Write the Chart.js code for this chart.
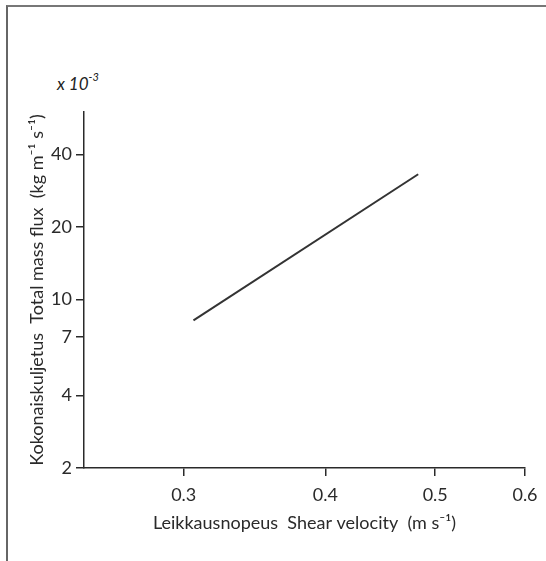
<!DOCTYPE html>
<html>
<head>
<meta charset="utf-8">
<script src="https://cdn.jsdelivr.net/npm/chart.js@4"></script>
<style>
    html, body { margin: 0; padding: 0; background: #fff; }
    #wrap { position: relative; width: 546px; height: 561px; overflow: hidden; }
    #frame {
        position: absolute; left: 6px; top: 5px; right: -10px; bottom: -10px;
        border-left: 2px solid #666; border-top: 2px solid #777;
    }
    #exp {
        position: absolute; left: 57px; top: 72px;
        font: italic 17px Lato, sans-serif; color: #222;
    }
    #exp sup { font-size: 11px; position: relative; top: -2px; }
    canvas { position: absolute; left: 0; top: 0; }
</style>
</head>
<body>
<div id="wrap">
    <div id="frame"></div>
    <div id="exp">x 10<sup>-3</sup></div>
    <canvas id="chart" width="546" height="561"></canvas>
</div>
<script>
// shear velocity (m/s) vs total mass flux (x 10^-3 kg m-1 s-1), log-log
const shearVelocity = [0.306, 0.483]
const massFlux = [8.2, 33.1]

const xTicks = [0.3, 0.4, 0.5, 0.6]
const yTicks = [2, 4, 7, 10, 20, 40]

const xTitle = 'Leikkausnopeus  Shear velocity  (m s\u207B\u00B9)'
const yTitle = 'Kokonaiskuljetus  Total mass flux  (kg m\u207B\u00B9 s\u207B\u00B9)'

const ink = '#2a2a2a'
const font = { family: 'Lato, sans-serif', size: 18 }

Chart.defaults.animation = false
Chart.defaults.color = ink
Chart.defaults.font.family = font.family

const axisStyle = {
    grid: {
        display: true,
        drawOnChartArea: false,
        drawTicks: true,
        tickLength: 8,
        color: ink,
        lineWidth: 1.5,
    },
    border: { display: true, color: ink, width: 1.5 },
}

new Chart(document.getElementById('chart'), {
    type: 'scatter',
    data: {
        datasets: [{
            data: shearVelocity.map((x, i) => ({ x: x, y: massFlux[i] })),
            showLine: true,
            borderColor: '#333',
            borderWidth: 2,
            pointRadius: 0,
        }],
    },
    options: {
        responsive: false,
        layout: { padding: { top: 112, right: 21, bottom: 0, left: 0 } },
        plugins: { legend: { display: false }, tooltip: { enabled: false } },
        scales: {
            x: {
                type: 'logarithmic',
                min: 0.245,
                max: 0.6,
                ...axisStyle,
                afterBuildTicks: (scale) => {
                    scale.ticks = xTicks.map((v) => ({ value: v }))
                },
                afterFit: (scale) => { scale.height = 93 },
                ticks: {
                    font: font,
                    padding: 8,
                    maxRotation: 0,
                    autoSkip: false,
                    callback: (v) => String(v),
                },
                title: {
                    display: true,
                    text: xTitle,
                    font: font,
                    padding: { top: 0, bottom: 27 },
                },
            },
            y: {
                type: 'logarithmic',
                min: 2,
                max: 60,
                ...axisStyle,
                afterBuildTicks: (scale) => {
                    scale.ticks = yTicks.map((v) => ({ value: v }))
                },
                afterFit: (scale) => { scale.width = 84 },
                ticks: {
                    font: font,
                    padding: 4,
                    autoSkip: false,
                    callback: (v) => String(v),
                },
                title: {
                    display: true,
                    text: yTitle,
                    font: font,
                    padding: { top: 26, bottom: 0 },
                },
            },
        },
    },
})
</script>
</body>
</html>
